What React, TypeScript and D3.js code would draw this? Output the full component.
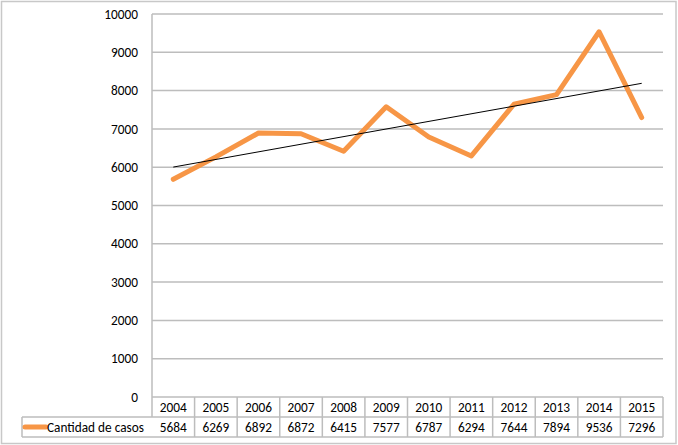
import React from "react";
import * as d3 from "d3";

const years = ["2004", "2005", "2006", "2007", "2008", "2009", "2010", "2011", "2012", "2013", "2014", "2015"];
const casos = [5684, 6269, 6892, 6872, 6415, 7577, 6787, 6294, 7644, 7894, 9536, 7296];
const yTicks = [0, 1000, 2000, 3000, 4000, 5000, 6000, 7000, 8000, 9000, 10000];
const seriesName = "Cantidad de casos";

const W = 678, H = 445;
const left = 152, right = 663, top = 14, bottom = 397;
const rowH = 20;
const legendLeft = 22;
const font = "Carlito, Lato, 'Open Sans', sans-serif";
const fs = 13.3;

export default function App() {
  const x = d3.scaleBand<string>().domain(years).range([left, right]);
  const y = d3.scaleLinear().domain([0, 10000]).range([bottom, top]);
  const cx = (yr: string) => (x(yr) as number) + x.bandwidth() / 2;

  const line = d3.line<number>().x((_, i) => cx(years[i])).y((d) => y(d));

  // linear least squares trendline
  const n = casos.length;
  const idx = casos.map((_, i) => i);
  const mx = d3.mean(idx) as number;
  const my = d3.mean(casos) as number;
  const slope = d3.sum(idx, (i) => (i - mx) * (casos[i] - my)) / d3.sum(idx, (i) => (i - mx) ** 2);
  const icpt = my - slope * mx;
  const trend = [icpt, icpt + slope * (n - 1)];

  const r1 = bottom, r2 = bottom + rowH, r3 = bottom + 2 * rowH;

  return (
    <div style={{ position: "fixed", left: 0, top: 0 }}>
      <svg width={W} height={H} style={{ display: "block", fontFamily: font }}>
        <rect x={0} y={0} width={W} height={H} fill="#fff" />
        <rect x={1.5} y={1.5} width={W - 3.5} height={H - 3} fill="none" stroke="#c8c8c8" strokeWidth={1.5} />
        {yTicks.map((t) => (
          <g key={t}>
            {t > 0 && <line x1={left} x2={right} y1={y(t)} y2={y(t)} stroke="#bdbdbd" strokeWidth={1.5} />}
            <text x={138} y={y(t)} dy="0.35em" textAnchor="end" fontSize={fs} fill="#000">{t}</text>
          </g>
        ))}
        <line x1={left} x2={left} y1={top} y2={r2} stroke="#bdbdbd" strokeWidth={1.5} />
        {/* table */}
        <line x1={left} x2={right} y1={r1} y2={r1} stroke="#bdbdbd" strokeWidth={1.5} />
        <line x1={legendLeft} x2={right} y1={r2} y2={r2} stroke="#bdbdbd" strokeWidth={1.5} />
        <line x1={legendLeft} x2={right} y1={r3} y2={r3} stroke="#bdbdbd" strokeWidth={1.5} />
        <line x1={legendLeft} x2={legendLeft} y1={r2} y2={r3} stroke="#bdbdbd" strokeWidth={1.5} />
        {years.map((yr) => (
          <line key={"d" + yr} x1={(x(yr) as number) + x.bandwidth()} x2={(x(yr) as number) + x.bandwidth()} y1={r1} y2={r3} stroke="#bdbdbd" strokeWidth={1.5} />
        ))}
        {years.map((yr, i) => (
          <g key={"t" + yr}>
            <text x={cx(yr)} y={(r1 + r2) / 2} dy="0.38em" textAnchor="middle" fontSize={fs}>{yr}</text>
            <text x={cx(yr)} y={(r2 + r3) / 2} dy="0.38em" textAnchor="middle" fontSize={fs}>{casos[i]}</text>
          </g>
        ))}
        <line x1={legendLeft + 3} x2={46} y1={(r2 + r3) / 2} y2={(r2 + r3) / 2} stroke="#f79646" strokeWidth={5} strokeLinecap="round" />
        <text x={47} y={(r2 + r3) / 2} dy="0.38em" fontSize={fs}>{seriesName}</text>
        {/* series */}
        <path d={line(casos) as string} fill="none" stroke="#f79646" strokeWidth={5} strokeLinejoin="round" strokeLinecap="round" />
        <line x1={cx(years[0])} x2={cx(years[n - 1])} y1={y(trend[0])} y2={y(trend[1])} stroke="#000" strokeWidth={1} />
      </svg>
    </div>
  );
}
